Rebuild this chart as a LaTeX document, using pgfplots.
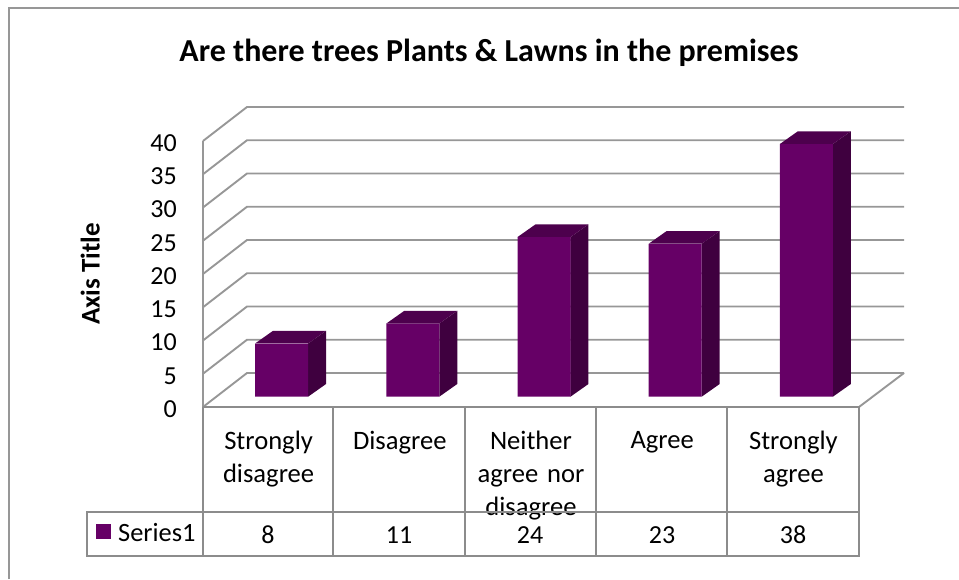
\documentclass[border=0pt]{standalone}
\usepackage{fontspec}
\setmainfont{Carlito}
\usepackage{pgfplots}
\pgfplotsset{compat=1.18}
\definecolor{gridgray}{HTML}{979797}
\definecolor{tablegray}{HTML}{8C8C8C}
\definecolor{barfront}{HTML}{660066}
\definecolor{bartop}{HTML}{4D004D}
\definecolor{barside}{HTML}{3F003F}

% top and side faces of one bar: {category}{value}
\newcommand{\barfaces}[2]{%
  \pgfmathsetmacro{\xl}{#1-0.103}%
  \pgfmathsetmacro{\xr}{#1+0.301}%
  \pgfmathsetmacro{\xb}{#1+0.438}%
  \pgfmathsetmacro{\xc}{#1+0.034}%
  \pgfmathsetmacro{\yf}{#2+1.55}%
  \pgfmathsetmacro{\yb}{#2+3.46}%
  \addplot[fill=barside,draw=none] coordinates {(\xr,1.55) (\xr,\yf) (\xb,\yb) (\xb,3.46)} --cycle;
  \addplot[fill=bartop,draw=none] coordinates {(\xl,\yf) (\xr,\yf) (\xb,\yb) (\xc,\yb)} --cycle;
}

\begin{document}
\begin{tikzpicture}[x=1pt,y=1pt]
\useasboundingbox (-203,-172) rectangle (756,407);
% chart border
\draw[gridgray,line width=2pt] (-194,-172) -- (-194,399) -- (756,399);
% walls and floor
\draw[gridgray,line width=2pt] (0,0) -- (0,266);
\foreach \v in {0,1,...,8}
  \draw[gridgray,line width=1.9pt] (0,\v*33.25) -- ++(44,34) -- (701,\v*33.25+34);
\draw[gridgray,line width=1.9pt] (701,34) -- (656,0);

\begin{axis}[
    at={(0,0)}, anchor=south west,
    scale only axis,
    width=656pt, height=266pt,
    xmin=-0.5, xmax=4.5,
    ymin=0, ymax=40,
    clip=false,
    axis line style={draw=none},
    major tick length=0pt,
    xtick={0,1,2,3,4},
    xticklabels={Strongly\\disagree,Disagree,Neither\\agree nor\\disagree,Agree,Strongly\\agree},
    xticklabel style={font=\fontsize{26.6}{33}\selectfont,text width=128pt,align=center,anchor=north,inner sep=0pt,yshift=-24pt},
    ytick={0,5,...,40},
    yticklabel style={font=\fontsize{26}{30}\selectfont,anchor=east,inner sep=0pt,xshift=-26pt,yshift=-2pt},
    /pgf/number format/assume math mode=true,
    ylabel={Axis Title},
    ylabel style={font=\bfseries\fontsize{27}{30}\selectfont,at={(axis description cs:-0.172,0.5)},anchor=center,rotate=0},
    title={Are there trees Plants \& Lawns in the premises},
    title style={font=\bfseries\fontsize{32}{36}\selectfont,at={(axis description cs:0.436,1.31)},anchor=center},
]
\barfaces{0}{8}
\barfaces{1}{11}
\barfaces{2}{24}
\barfaces{3}{23}
\barfaces{4}{38}
\addplot[ybar,bar width=53pt,bar shift=13pt,fill=barfront,draw=none,yshift=10.3pt] coordinates {(0,8) (1,11) (2,24) (3,23) (4,38)};
\end{axis}

% data table
\draw[tablegray,line width=2.2pt] (0,0) -- (656,0) -- (656,-149) -- (-116,-149) -- (-116,-105) -- (656,-105);
\foreach \x in {0,130,262,393,524}
  \draw[tablegray,line width=2.2pt] (\x,0) -- (\x,-149);
\fill[barfront] (-107,-132) rectangle (-92,-117);
\node[anchor=west,inner sep=0pt,font=\fontsize{26.4}{30}\selectfont] at (-85,-126) {Series1};
\foreach \x/\t in {65/8,196/11,327/24,459/23,590/38}
  \node[font=\fontsize{26}{30}\selectfont] at (\x,-128) {\t};
\end{tikzpicture}
\end{document}
